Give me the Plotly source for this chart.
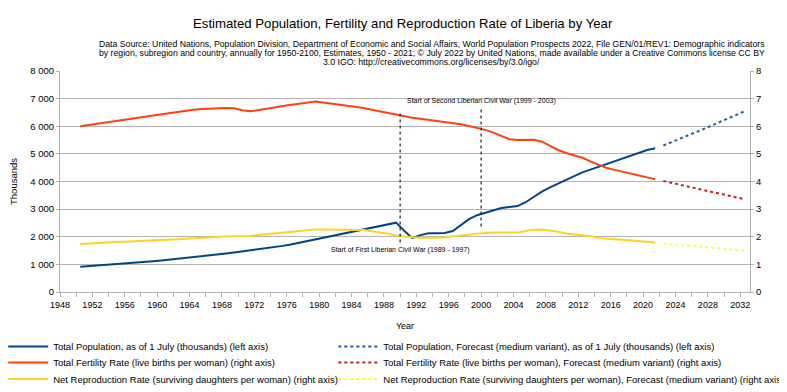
import plotly.graph_objects as go

years = list(range(1950, 2022))
population = [913, 932, 951, 971, 992, 1014, 1037, 1061, 1086, 1112,
              1139, 1167, 1196, 1226, 1257, 1289, 1322, 1356, 1391, 1427,
              1464, 1502, 1541, 1582, 1624, 1670, 1720, 1780, 1840, 1900,
              1950, 2010, 2080, 2140, 2200, 2260, 2320, 2390, 2450, 2510,
              2220, 1950, 2060, 2130, 2130, 2140, 2210, 2420, 2640, 2780,
              2870, 2960, 3040, 3080, 3110, 3250, 3450, 3630, 3790, 3930,
              4060, 4220, 4330, 4430, 4530, 4630, 4740, 4850, 4950, 5050,
              5140, 5200]
fertility = [6.00, 6.04, 6.08, 6.12, 6.16, 6.20, 6.26, 6.30, 6.34, 6.39,
             6.43, 6.48, 6.53, 6.57, 6.60, 6.62, 6.64, 6.66, 6.66, 6.65,
             6.58, 6.54, 6.58, 6.63, 6.68, 6.73, 6.77, 6.82, 6.87, 6.90,
             6.86, 6.82, 6.78, 6.75, 6.71, 6.66, 6.60, 6.54, 6.47, 6.41,
             6.36, 6.31, 6.27, 6.23, 6.20, 6.16, 6.12, 6.07, 6.01, 5.95,
             5.87, 5.77, 5.64, 5.53, 5.50, 5.51, 5.51, 5.44, 5.30, 5.14,
             5.03, 4.94, 4.86, 4.73, 4.60, 4.49, 4.42, 4.36, 4.29, 4.22,
             4.15, 4.08]
reproduction = [1.74, 1.76, 1.78, 1.80, 1.81, 1.82, 1.83, 1.84, 1.85, 1.86,
                1.87, 1.89, 1.91, 1.93, 1.95, 1.97, 1.98, 2.00, 2.01, 2.02,
                2.02, 2.03, 2.06, 2.09, 2.12, 2.15, 2.18, 2.21, 2.24, 2.26,
                2.26, 2.26, 2.26, 2.26, 2.25, 2.24, 2.20, 2.16, 2.11, 2.05,
                2.01, 1.98, 1.96, 1.95, 1.96, 1.98, 2.01, 2.05, 2.09, 2.12,
                2.14, 2.15, 2.15, 2.14, 2.15, 2.21, 2.25, 2.26, 2.23, 2.18,
                2.12, 2.09, 2.07, 2.02, 1.95, 1.92, 1.91, 1.89, 1.87, 1.84,
                1.81, 1.79]

forecast_years = list(range(2022, 2033))
population_fc = [5303, 5418, 5537, 5657, 5780, 5904, 6030, 6156, 6283, 6410, 6537]
fertility_fc = [4.02, 3.95, 3.89, 3.82, 3.75, 3.69, 3.62, 3.56, 3.49, 3.43, 3.36]
reproduction_fc = [1.75, 1.73, 1.70, 1.68, 1.65, 1.63, 1.60, 1.58, 1.55, 1.53, 1.50]

tick_years = list(range(1948, 2033, 2))
tick_labels = [str(y) if (y - 1948) % 4 == 0 else "" for y in tick_years]

war_starts = [1989, 1999]
war_labels = ["Start of First Liberian Civil War (1989 - 1997)",
              "Start of Second Liberian Civil War (1999 - 2003)"]

title = "Estimated Population, Fertility and Reproduction Rate of Liberia by Year"
subtitle_lines = [
    "Data Source: United Nations, Population Division, Department of Economic and Social Affairs, "
    "World Population Prospects 2022, File GEN/01/REV1: Demographic indicators",
    "by region, subregion and country, annually for 1950-2100, Estimates, 1950 - 2021; "
    "© July 2022 by United Nations, made available under a Creative Commons license CC BY",
    "3.0 IGO: http://creativecommons.org/licenses/by/3.0/igo/",
]

FONT = "Liberation Sans, Arial, sans-serif"
BLUE, ORANGE, YELLOW = "#004586", "#ff420e", "#ffd320"
BLUE_F, RED_F, YELLOW_F = "#2a6099", "#c9211e", "#ffff38"
GRID = "#b3b3b3"

# figure geometry (page offset of 8px from the html body margin is compensated)
W, H = 779, 384
ML, MR, MT, MB = 52, 37, 63, 100
PW, PH = W - ML - MR, H - MT - MB


def py(fig_y):
    return (H - MB - fig_y) / PH


def px(fig_x):
    return (fig_x - ML) / PW


fig = go.Figure()
traces = [
    (years, population, "y", dict(color=BLUE, width=2),
     "Total Population, as of 1 July (thousands) (left axis)", "legend"),
    (forecast_years, population_fc, "y", dict(color=BLUE_F, width=2, dash="dot"),
     "Total Population, Forecast (medium variant), as of 1 July (thousands) (left axis)", "legend2"),
    (years, fertility, "y2", dict(color=ORANGE, width=2),
     "Total Fertility Rate (live births per woman) (right axis)", "legend3"),
    (forecast_years, fertility_fc, "y2", dict(color=RED_F, width=2, dash="dot"),
     "Total Fertility Rate (live births per woman), Forecast (medium variant) (right axis)", "legend4"),
    (years, reproduction, "y2", dict(color=YELLOW, width=2),
     "Net Reproduction Rate (surviving daughters per woman) (right axis)", "legend5"),
    (forecast_years, reproduction_fc, "y2", dict(color=YELLOW_F, width=2, dash="dot"),
     "Net Reproduction Rate (surviving daughters per woman), Forecast (medium variant) (right axis)", "legend6"),
]
for xs, ys, ax, ln, name, lg in traces:
    fig.add_trace(go.Scatter(x=xs, y=ys, mode="lines", yaxis=ax, line=ln, name=name, legend=lg))

shapes = []
line_spans = [(1.79, 6.52), (2.37, 6.68)]
for ws, (lo, hi) in zip(war_starts, line_spans):
    shapes.append(dict(type="line", xref="x", yref="y2", x0=ws + 0.5, x1=ws + 0.5, y0=lo, y1=hi,
                       line=dict(color="#222222", width=1.2, dash="3px,3px")))

annotations = [
    dict(text=title, xref="paper", yref="paper", x=px(395), y=py(15.5),
         xanchor="center", yanchor="middle", showarrow=False,
         font=dict(family=FONT, size=13.2, color="#000")),
    dict(text=war_labels[0], xref="x", yref="y2", x=war_starts[0] + 0.5, y=1.53, showarrow=False,
         xanchor="center", yanchor="middle", font=dict(family=FONT, size=7, color="#000")),
    dict(text=war_labels[1], xref="x", yref="y2", x=war_starts[1] + 0.5, y=6.92, showarrow=False,
         xanchor="center", yanchor="middle", font=dict(family=FONT, size=7, color="#000")),
]
for line, fy in zip(subtitle_lines, [35.5, 45, 54]):
    annotations.append(dict(text=line, xref="paper", yref="paper", x=px(423.5), y=py(fy),
                            xanchor="center", yanchor="middle", showarrow=False,
                            font=dict(family=FONT, size=8.7, color="#000")))

legend_common = dict(orientation="v", xanchor="left", yanchor="middle", itemwidth=40,
                     font=dict(family=FONT, size=9.5, color="#000"), bgcolor="rgba(0,0,0,0)")
row_y = [338.5, 354.5, 371]
col_x = [-4.8, 325.3]
legends = {}
for i, lg in enumerate(["legend", "legend2", "legend3", "legend4", "legend5", "legend6"]):
    legends[lg] = dict(legend_common, x=px(col_x[i % 2]), y=py(row_y[i // 2]))

fig.update_layout(
    width=W, height=H,
    margin=dict(l=ML, r=MR, t=MT, b=MB, autoexpand=False),
    paper_bgcolor="white", plot_bgcolor="white",
    separators=". ",
    font=dict(family=FONT, size=9.5, color="#000"),
    showlegend=True,
    xaxis=dict(range=[1947.5, 2032.7], tickmode="array", tickvals=[y - 0.5 for y in tick_years],
               ticktext=tick_labels, ticks="outside", ticklen=4, tickcolor=GRID,
               showline=True, linecolor=GRID, showgrid=False, zeroline=False,
               tickfont=dict(size=9), title=dict(text="Year", font=dict(size=9), standoff=13)),
    yaxis=dict(range=[0, 8000], tickvals=list(range(0, 8001, 1000)), tickformat=",",
               ticks="outside", ticklen=3, tickcolor=GRID, showline=True, linecolor=GRID,
               showgrid=True, gridcolor=GRID, zeroline=False, tickfont=dict(size=9.5),
               title=dict(text="Thousands", font=dict(size=9.5), standoff=17)),
    yaxis2=dict(range=[0, 8], overlaying="y", side="right", tickvals=list(range(0, 9)),
                ticks="outside", ticklen=3, tickcolor=GRID, showline=True, linecolor=GRID,
                showgrid=False, zeroline=False, tickfont=dict(size=9.5)),
    shapes=shapes, annotations=annotations,
    **legends,
)

fig.write_html("out.html")
